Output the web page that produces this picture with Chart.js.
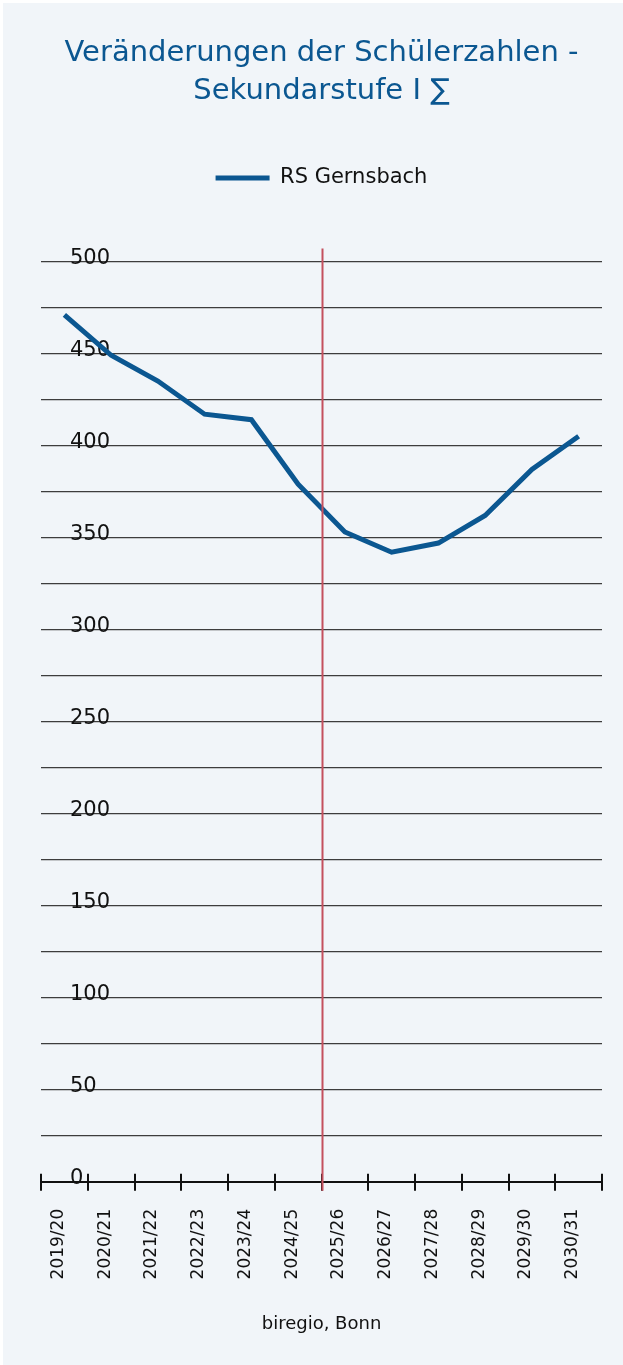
<!DOCTYPE html>
<html lang="de">
<head>
<meta charset="utf-8">
<title>Veränderungen der Schülerzahlen - Sekundarstufe I</title>
<script src="https://cdn.jsdelivr.net/npm/chart.js@4.4.1/dist/chart.umd.min.js"></script>
<style>
  html, body { margin: 0; padding: 0; background: #ffffff; }
  #wrap { position: absolute; left: 3px; top: 3px; width: 620px; height: 1362px; background: #f1f5f9; }
  canvas { display: block; }
</style>
</head>
<body>
<div id="wrap"><canvas id="chart-schueler"></canvas></div>
<script>
  // Daten
  var schuljahre = ['2019/20', '2020/21', '2021/22', '2022/23', '2023/24', '2024/25',
                    '2025/26', '2026/27', '2027/28', '2028/29', '2029/30', '2030/31'];
  var rsGernsbach = [471, 449, 435, 417, 414, 379, 353, 342, 347, 362, 387, 405];
  var yTicks = [0, 50, 100, 150, 200, 250, 300, 350, 400, 450, 500];
  var prognoseAb = 5.5; // Grenze zwischen 2024/25 und 2025/26

  var BLAU = '#0b5791';
  var ROT = '#c4505e';
  var FONT = '"DejaVu Sans", "Open Sans", sans-serif';

  /** Abstand unter der Legende */
  var legendSpace = {
    id: 'legendSpace',
    beforeInit: function(c) {
      var fit = c.legend.fit;
      c.legend.fit = function() {
        fit.call(this);
        this.height += 63;
      };
    }
  };

  /** Prognoselinie + Achsenstriche */
  var markerPlugin = {
    id: 'marker',
    afterDraw: function(c) {
      var ctx = c.ctx;
      var xs = c.scales.x;
      var area = c.chartArea;
      ctx.save();
      // Striche oberhalb der x-Achse
      ctx.strokeStyle = '#111';
      ctx.lineWidth = 2;
      for (var i = 0; i <= schuljahre.length; i++) {
        var px = Math.round(xs.getPixelForValue(i - 0.5));
        ctx.beginPath();
        ctx.moveTo(px, area.bottom - 8);
        ctx.lineTo(px, area.bottom);
        ctx.stroke();
      }
      // rote Linie
      var x = Math.round(xs.getPixelForValue(prognoseAb)) + 0.5;
      ctx.strokeStyle = ROT;
      ctx.lineWidth = 2;
      ctx.beginPath();
      ctx.moveTo(x, area.top - 13);
      ctx.lineTo(x, area.bottom + 9);
      ctx.stroke();
      ctx.restore();
    }
  };

  new Chart(document.getElementById('chart-schueler'), {
    type: 'line',
    data: {
      labels: schuljahre,
      datasets: [{
        label: 'RS Gernsbach',
        data: rsGernsbach,
        borderColor: BLAU,
        backgroundColor: BLAU,
        borderWidth: 5,
        pointRadius: 0,
        tension: 0
      }]
    },
    options: {
      responsive: true,
      maintainAspectRatio: false,
      animation: false,
      layout: { padding: { left: 38, right: 21, top: 0, bottom: 30 } },
      plugins: {
        title: {
          display: true,
          text: ['Veränderungen der Schülerzahlen -', 'Sekundarstufe I ∑'],
          color: BLAU,
          font: { family: FONT, size: 29, weight: 'normal', lineHeight: 1.3 },
          padding: { top: 32, bottom: 47 }
        },
        legend: {
          labels: {
            color: '#111',
            font: { family: FONT, size: 21 },
            usePointStyle: true,
            pointStyle: 'line',
            pointStyleWidth: 54,
            boxHeight: 10,
            padding: 10
          }
        },
        tooltip: { enabled: false }
      },
      scales: {
        x: {
          offset: true,
          grid: {
            offset: true,
            drawOnChartArea: false,
            color: '#111',
            lineWidth: 2,
            tickLength: 9
          },
          border: { display: true, color: '#111', width: 2 },
          ticks: {
            color: '#111',
            font: { family: FONT, size: 17 },
            minRotation: 90,
            maxRotation: 90,
            autoSkip: false,
            padding: 18,
            labelOffset: -6
          },
          title: {
            display: true,
            text: 'biregio, Bonn',
            color: '#111',
            font: { family: FONT, size: 18 },
            padding: { top: 16, bottom: 0 }
          }
        },
        y: {
          min: 0,
          max: 500,
          grid: { color: '#3d3d3d', lineWidth: 1.3, drawTicks: false },
          border: { display: false },
          afterFit: function(scale) { scale.width = 0; },
          afterBuildTicks: function(scale) {
            var t = [];
            for (var v = 0; v <= 500; v += 25) t.push({ value: v });
            scale.ticks = t;
          },
          ticks: {
            mirror: true,
            padding: 29,
            labelOffset: -3,
            color: '#111',
            font: { family: FONT, size: 21 },
            callback: function(v) { return yTicks.indexOf(v) >= 0 ? String(v) : ''; }
          }
        }
      }
    },
    plugins: [legendSpace, markerPlugin]
  });
</script>
</body>
</html>
